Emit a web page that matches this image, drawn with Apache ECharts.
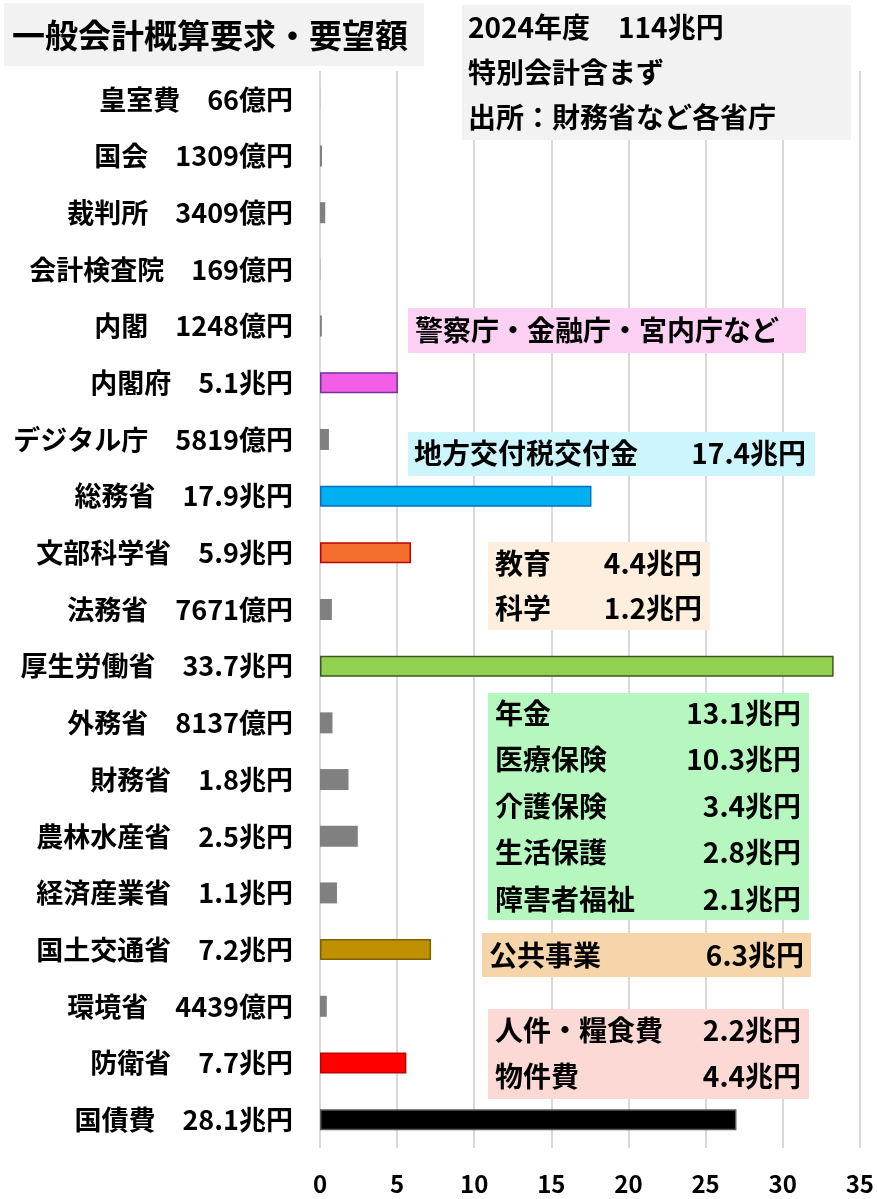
<!DOCTYPE html>
<html>
<head>
<meta charset="utf-8">
<script src="https://cdn.jsdelivr.net/npm/echarts@6/dist/echarts.min.js"></script>
<style>
html,body{margin:0;padding:0;background:#fff;}
#chart{width:877px;height:1199px;}
</style>
</head>
<body>
<div id="chart"></div>
<script>
// ---- data ----
const categories = ['皇室費','国会','裁判所','会計検査院','内閣','内閣府','デジタル庁','総務省','文部科学省','法務省','厚生労働省','外務省','財務省','農林水産省','経済産業省','国土交通省','環境省','防衛省','国債費'];
const amountLabels = ['66億円','1309億円','3409億円','169億円','1248億円','5.1兆円','5819億円','17.9兆円','5.9兆円','7671億円','33.7兆円','8137億円','1.8兆円','2.5兆円','1.1兆円','7.2兆円','4439億円','7.7兆円','28.1兆円'];
// bar lengths (兆円)
const barValues = [0.0066,0.13,0.34,0.017,0.12,5.05,0.58,17.6,5.9,0.77,33.3,0.81,1.85,2.45,1.1,7.2,0.44,5.6,27.0];
const fillColors = ['#808080','#808080','#808080','#808080','#808080','#f25ee6','#808080','#00b0f0','#f36f2e','#808080','#92d050','#808080','#808080','#808080','#808080','#bf9000','#808080','#ff0000','#000000'];
const borderColors = ['#808080','#808080','#808080','#808080','#808080','#7030a0','#808080','#0070c0','#c00000','#808080','#385723','#808080','#808080','#808080','#808080','#7f6000','#808080','#c00000','#595959'];
const xTicks = {min:0, max:35, interval:5};

const titleText = '一般会計概算要求・要望額';
const infoLines = ['2024年度　114兆円','特別会計含まず','出所：財務省など各省庁'];
const cabinetNote = '警察庁・金融庁・宮内庁など';
const localNote = ['地方交付税交付金','17.4兆円'];
const eduItems = ['教育','科学'];
const eduValues = ['4.4兆円','1.2兆円'];
const welfareItems = ['年金','医療保険','介護保険','生活保護','障害者福祉'];
const welfareValues = ['13.1兆円','10.3兆円','3.4兆円','2.8兆円','2.1兆円'];
const publicWorks = ['公共事業','6.3兆円'];
const defenseItems = ['人件・糧食費','物件費'];
const defenseValues = ['2.2兆円','4.4兆円'];

// ---- chart ----
const FONT = '"Noto Sans CJK JP","Noto Sans",sans-serif';
const chart = echarts.init(document.getElementById('chart'), null, {renderer:'canvas'});

function rect(x,y,w,h,fill){ return {type:'rect', shape:{x:x,y:y,width:w,height:h}, style:{fill:fill}, z:1}; }
function txt(s,x,y,size,align){ return {type:'text', x:x, y:y, style:{text:s, fill:'#000', font:'bold '+size+'px '+FONT, textAlign:align||'left', textVerticalAlign:'middle', verticalAlign:'middle'}, z:2}; }

const graphics = [];
graphics.push(rect(4,3,420,63,'#f2f2f2'));
graphics.push(txt(titleText,12,35,33));
graphics.push(rect(462,5,389,135,'#f2f2f2'));
infoLines.forEach((s,i)=>graphics.push(txt(s,468,27+i*45,28)));
graphics.push(rect(408,308,398,45,'#fcd0f2'));
graphics.push(txt(cabinetNote,415,330,28));
graphics.push(rect(408,432,407,44,'#cdf5fd'));
graphics.push(txt(localNote[0],414,453,28));
graphics.push(txt(localNote[1],806,453,28,'right'));
graphics.push(rect(488,542,222,88,'#fdeedd'));
eduItems.forEach((s,i)=>{graphics.push(txt(s,495,563+i*45,28)); graphics.push(txt(eduValues[i],702,563+i*45,28,'right'));});
graphics.push(rect(488,693,321,227,'#b5f7be'));
welfareItems.forEach((s,i)=>{graphics.push(txt(s,495,713+i*46.5,28)); graphics.push(txt(welfareValues[i],801,713+i*46.5,28,'right'));});
graphics.push(rect(482,933,329,44,'#f7d5aa'));
graphics.push(txt(publicWorks[0],489,955,28));
graphics.push(txt(publicWorks[1],804,955,28,'right'));
graphics.push(rect(488,1009,321,90,'#fdd9d5'));
defenseItems.forEach((s,i)=>{graphics.push(txt(s,495,1030+i*46,28)); graphics.push(txt(defenseValues[i],801,1030+i*46,28,'right'));});

const option = {
  backgroundColor:'#ffffff',
  animation:false,
  grid:{left:320, right:15, top:71, bottom:51, containLabel:false},
  xAxis:{
    type:'value', min:xTicks.min, max:xTicks.max, interval:xTicks.interval,
    axisLine:{show:false}, axisTick:{show:false},
    splitLine:{show:true, lineStyle:{color:'#d9d9d9', width:2}},
    axisLabel:{color:'#000', fontSize:24, fontWeight:'bold', fontFamily:FONT, margin:24}
  },
  yAxis:{
    type:'category', inverse:true,
    data:categories.map((c,i)=>c+'　'+amountLabels[i]),
    axisLine:{show:false}, axisTick:{show:false},
    axisLabel:{color:'#000', fontSize:27, fontWeight:'bold', fontFamily:FONT, margin:27}
  },
  series:[{
    type:'bar', barWidth:21,
    data:barValues.map((v,i)=>({value:v, itemStyle:{color:fillColors[i], borderColor:borderColors[i], borderWidth:(fillColors[i]==='#808080'?0:1.5)}})),
    z:3
  }],
  graphic:graphics
};
chart.setOption(option);
</script>
</body>
</html>
